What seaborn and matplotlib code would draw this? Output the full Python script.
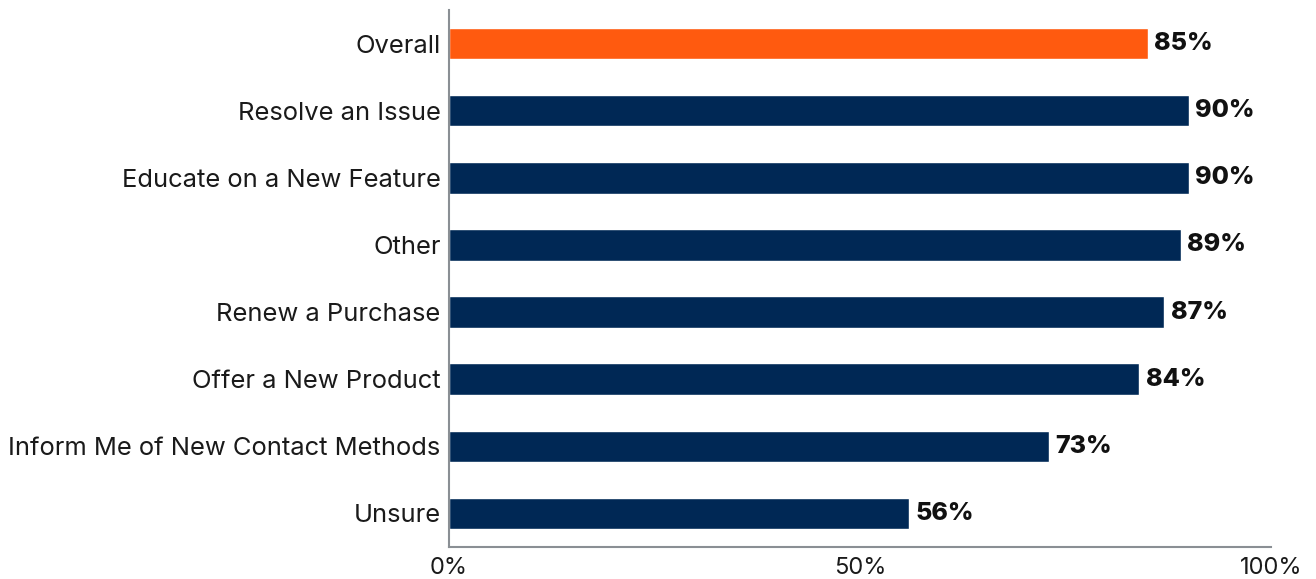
import matplotlib
matplotlib.use("Agg")
import matplotlib.pyplot as plt
import seaborn as sns
import pandas as pd

categories = ["Overall", "Resolve an Issue", "Educate on a New Feature", "Other",
              "Renew a Purchase", "Offer a New Product",
              "Inform Me of New Contact Methods", "Unsure"]
values = [85, 90, 90, 89, 87, 84, 73, 56]
bar_colors = ["#FF5A0F"] + ["#002855"] * 7
x_ticks = [0, 50, 100]
x_tick_labels = ["0%", "50%", "100%"]

sns.set_theme(style="white")
plt.rcParams["font.family"] = ["Inter", "DejaVu Sans"]

df = pd.DataFrame({"cat": categories, "val": values})

fig = plt.figure(figsize=(13.16, 5.79), dpi=100)
ax = fig.add_axes([449/1316, 1 - 547/579, (1271 - 449)/1316, (547 - 10)/579])

sns.barplot(data=df, y="cat", x="val", hue="cat", palette=bar_colors,
            legend=False, width=0.47, ax=ax, orient="h", saturation=1)

for i, v in enumerate(values):
    ax.text(v + 0.8, i, f"{v}%", va="center", ha="left", fontsize=18,
            fontweight="heavy", color="#111111")

ax.set_xlim(0, 100)
ax.set_ylim(7.5, -0.5)
ax.set_xticks(x_ticks)
ax.set_xticklabels(x_tick_labels, fontsize=17, color="#1a1a1a")
ax.tick_params(axis="y", labelsize=18.4, labelcolor="#1a1a1a", length=0, pad=6)
ax.tick_params(axis="x", length=0, pad=7)
ax.set_xlabel("")
ax.set_ylabel("")
for s in ["top", "right"]:
    ax.spines[s].set_visible(False)
for s in ["left", "bottom"]:
    ax.spines[s].set_color("#8a8f94")
    ax.spines[s].set_linewidth(1.5)

fig.savefig("out.png", dpi=100)
